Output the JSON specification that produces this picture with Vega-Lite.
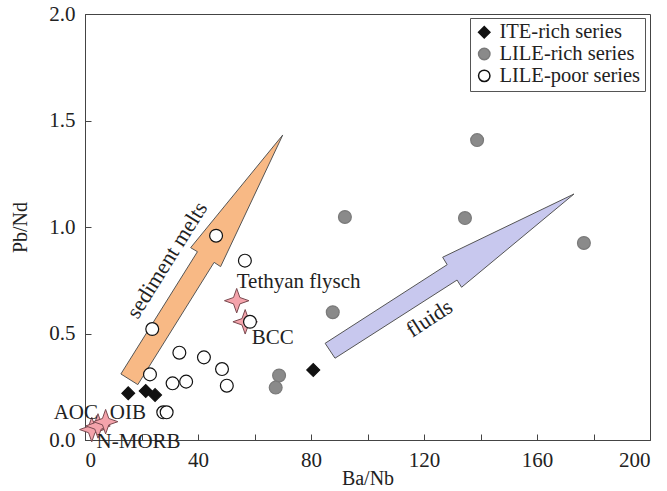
{
  "$schema": "https://vega.github.io/schema/vega-lite/v6.json",
  "width": 565,
  "height": 426,
  "autosize": {"type": "none"},
  "padding": {"left": 85, "top": 14, "right": 17, "bottom": 51},
  "background": "white",
  "config": {
    "font": "Liberation Serif",
    "view": {"stroke": "#444", "strokeWidth": 1},
    "axis": {
      "grid": false,
      "domainColor": "#444",
      "tickColor": "#444",
      "tickSize": -6,
      "labelFont": "Liberation Serif",
      "labelFontSize": 21,
      "labelColor": "#222",
      "titleFont": "Liberation Serif",
      "titleFontSize": 20,
      "titleFontWeight": "normal",
      "titleColor": "#222"
    }
  },
  "datasets": {
    "points": [
      {"series": "ITE-rich series", "ba_nb": 15.3, "pb_nd": 0.219},
      {"series": "ITE-rich series", "ba_nb": 21.5, "pb_nd": 0.23},
      {"series": "ITE-rich series", "ba_nb": 24.8, "pb_nd": 0.211},
      {"series": "ITE-rich series", "ba_nb": 80.8, "pb_nd": 0.329},
      {"series": "LILE-rich series", "ba_nb": 138.8, "pb_nd": 1.408},
      {"series": "LILE-rich series", "ba_nb": 92.0, "pb_nd": 1.047},
      {"series": "LILE-rich series", "ba_nb": 134.5, "pb_nd": 1.042},
      {"series": "LILE-rich series", "ba_nb": 176.6, "pb_nd": 0.925},
      {"series": "LILE-rich series", "ba_nb": 87.7, "pb_nd": 0.6},
      {"series": "LILE-rich series", "ba_nb": 68.7, "pb_nd": 0.303},
      {"series": "LILE-rich series", "ba_nb": 67.5, "pb_nd": 0.246},
      {"series": "LILE-poor series", "ba_nb": 46.4, "pb_nd": 0.959},
      {"series": "LILE-poor series", "ba_nb": 56.6, "pb_nd": 0.842},
      {"series": "LILE-poor series", "ba_nb": 23.8, "pb_nd": 0.521},
      {"series": "LILE-poor series", "ba_nb": 58.4, "pb_nd": 0.555},
      {"series": "LILE-poor series", "ba_nb": 23.0, "pb_nd": 0.308},
      {"series": "LILE-poor series", "ba_nb": 33.4, "pb_nd": 0.41},
      {"series": "LILE-poor series", "ba_nb": 42.1, "pb_nd": 0.388},
      {"series": "LILE-poor series", "ba_nb": 48.5, "pb_nd": 0.333},
      {"series": "LILE-poor series", "ba_nb": 50.2, "pb_nd": 0.255},
      {"series": "LILE-poor series", "ba_nb": 31.0, "pb_nd": 0.266},
      {"series": "LILE-poor series", "ba_nb": 35.8, "pb_nd": 0.274},
      {"series": "LILE-poor series", "ba_nb": 27.7, "pb_nd": 0.13},
      {"series": "LILE-poor series", "ba_nb": 28.9, "pb_nd": 0.13}
    ],
    "stars": [
      {"name": "Tethyan flysch", "ba_nb": 53.7, "pb_nd": 0.654},
      {"name": "BCC", "ba_nb": 56.7, "pb_nd": 0.555},
      {"name": "AOC", "ba_nb": 2.4, "pb_nd": 0.049},
      {"name": "N-MORB", "ba_nb": 4.6, "pb_nd": 0.066},
      {"name": "OIB", "ba_nb": 7.3, "pb_nd": 0.086}
    ],
    "labels_left": [
      {"label": "OIB", "ba_nb": 8.8, "pb_nd": 0.128},
      {"label": "N-MORB", "ba_nb": 4.1, "pb_nd": -0.008},
      {"label": "Tethyan flysch", "ba_nb": 53.7, "pb_nd": 0.74},
      {"label": "BCC", "ba_nb": 59.0, "pb_nd": 0.477}
    ],
    "labels_right": [
      {"label": "AOC", "ba_nb": 4.6, "pb_nd": 0.128}
    ],
    "arrow_sediment": [
      {"order": 1, "ba_nb": 12.7, "pb_nd": 0.31},
      {"order": 2, "ba_nb": 39.8, "pb_nd": 0.884},
      {"order": 3, "ba_nb": 37.4, "pb_nd": 0.903},
      {"order": 4, "ba_nb": 70.0, "pb_nd": 1.432},
      {"order": 5, "ba_nb": 48.0, "pb_nd": 0.814},
      {"order": 6, "ba_nb": 45.7, "pb_nd": 0.834},
      {"order": 7, "ba_nb": 18.7, "pb_nd": 0.26},
      {"order": 8, "ba_nb": 12.7, "pb_nd": 0.31}
    ],
    "arrow_fluids": [
      {"order": 1, "ba_nb": 85.0, "pb_nd": 0.454},
      {"order": 2, "ba_nb": 128.2, "pb_nd": 0.823},
      {"order": 3, "ba_nb": 126.6, "pb_nd": 0.858},
      {"order": 4, "ba_nb": 173.1, "pb_nd": 1.155},
      {"order": 5, "ba_nb": 133.3, "pb_nd": 0.717},
      {"order": 6, "ba_nb": 131.7, "pb_nd": 0.751},
      {"order": 7, "ba_nb": 88.5, "pb_nd": 0.384},
      {"order": 8, "ba_nb": 85.0, "pb_nd": 0.454}
    ],
    "arrow_text_sediment": [
      {"label": "sediment melts", "ba_nb": 29.0, "pb_nd": 0.845}
    ],
    "arrow_text_fluids": [
      {"label": "fluids", "ba_nb": 121.9, "pb_nd": 0.571}
    ]
  },
  "layer": [
    {
      "data": {"name": "arrow_sediment"},
      "mark": {"type": "line", "fill": "#f8b985", "stroke": "#555", "strokeWidth": 1, "strokeJoin": "miter"},
      "encoding": {
        "x": {"field": "ba_nb", "type": "quantitative", "scale": {"domain": [0, 200], "nice": false},
          "axis": {"title": "Ba/Nb", "values": [0, 20, 40, 60, 80, 100, 120, 140, 160, 180, 200],
            "labelExpr": "datum.value % 40 === 0 ? datum.label : ''", "labelPadding": 15, "titlePadding": -2}},
        "y": {"field": "pb_nd", "type": "quantitative", "scale": {"domain": [0, 2], "nice": false},
          "axis": {"title": "Pb/Nd", "values": [0, 0.5, 1, 1.5, 2], "format": ".1f", "labelPadding": 16, "titlePadding": 18}},
        "order": {"field": "order", "type": "quantitative"}
      }
    },
    {
      "data": {"name": "arrow_fluids"},
      "mark": {"type": "line", "fill": "#c8c8ee", "stroke": "#555", "strokeWidth": 1, "strokeJoin": "miter"},
      "encoding": {
        "x": {"field": "ba_nb", "type": "quantitative"},
        "y": {"field": "pb_nd", "type": "quantitative"},
        "order": {"field": "order", "type": "quantitative"}
      }
    },
    {
      "data": {"name": "arrow_text_sediment"},
      "mark": {"type": "text", "angle": -58, "fontSize": 22, "font": "Liberation Serif", "color": "#222"},
      "encoding": {
        "x": {"field": "ba_nb", "type": "quantitative"},
        "y": {"field": "pb_nd", "type": "quantitative"},
        "text": {"field": "label"}
      }
    },
    {
      "data": {"name": "arrow_text_fluids"},
      "mark": {"type": "text", "angle": -33, "fontSize": 22, "font": "Liberation Serif", "color": "#222"},
      "encoding": {
        "x": {"field": "ba_nb", "type": "quantitative"},
        "y": {"field": "pb_nd", "type": "quantitative"},
        "text": {"field": "label"}
      }
    },
    {
      "data": {"name": "stars"},
      "mark": {"type": "point", "shape": "M0,-1L0.26,-0.26L1,0L0.26,0.26L0,1L-0.26,0.26L-1,0L-0.26,-0.26Z", "size": 600, "filled": true, "fill": "#f4a3ab", "stroke": "#7a4a50", "strokeWidth": 1, "opacity": 1},
      "encoding": {
        "x": {"field": "ba_nb", "type": "quantitative"},
        "y": {"field": "pb_nd", "type": "quantitative"}
      }
    },
    {
      "data": {"name": "points"},
      "mark": {"type": "point", "size": 165, "strokeWidth": 1.2, "opacity": 1, "filled": true},
      "encoding": {
        "x": {"field": "ba_nb", "type": "quantitative"},
        "y": {"field": "pb_nd", "type": "quantitative"},
        "shape": {"field": "series", "type": "nominal",
          "scale": {"domain": ["ITE-rich series", "LILE-rich series", "LILE-poor series"], "range": ["diamond", "circle", "circle"]},
          "legend": {"title": null, "orient": "none", "legendX": 385, "legendY": 4, "strokeColor": "#555", "padding": 4,
            "labelFont": "Liberation Serif", "labelFontSize": 20.5, "labelColor": "#222", "symbolSize": 130, "rowPadding": 0.8, "labelOffset": 5}},
        "fill": {"field": "series", "type": "nominal",
          "scale": {"domain": ["ITE-rich series", "LILE-rich series", "LILE-poor series"], "range": ["#111111", "#8a8a8a", "#ffffff"]},
          "legend": {"title": null, "orient": "none", "legendX": 385, "legendY": 4, "strokeColor": "#555", "padding": 4,
            "labelFont": "Liberation Serif", "labelFontSize": 20.5, "labelColor": "#222", "symbolSize": 130, "rowPadding": 0.8, "labelOffset": 5}},
        "stroke": {"field": "series", "type": "nominal",
          "scale": {"domain": ["ITE-rich series", "LILE-rich series", "LILE-poor series"], "range": ["#111111", "#7a7a7a", "#111111"]},
          "legend": {"title": null, "orient": "none", "legendX": 385, "legendY": 4, "strokeColor": "#555", "padding": 4,
            "labelFont": "Liberation Serif", "labelFontSize": 20.5, "labelColor": "#222", "symbolSize": 130, "rowPadding": 0.8, "labelOffset": 5}}
      }
    },
    {
      "data": {"name": "labels_left"},
      "mark": {"type": "text", "align": "left", "baseline": "middle", "fontSize": 21, "font": "Liberation Serif", "color": "#222"},
      "encoding": {
        "x": {"field": "ba_nb", "type": "quantitative"},
        "y": {"field": "pb_nd", "type": "quantitative"},
        "text": {"field": "label"}
      }
    },
    {
      "data": {"name": "labels_right"},
      "mark": {"type": "text", "align": "right", "baseline": "middle", "fontSize": 21, "font": "Liberation Serif", "color": "#222"},
      "encoding": {
        "x": {"field": "ba_nb", "type": "quantitative"},
        "y": {"field": "pb_nd", "type": "quantitative"},
        "text": {"field": "label"}
      }
    }
  ]
}
